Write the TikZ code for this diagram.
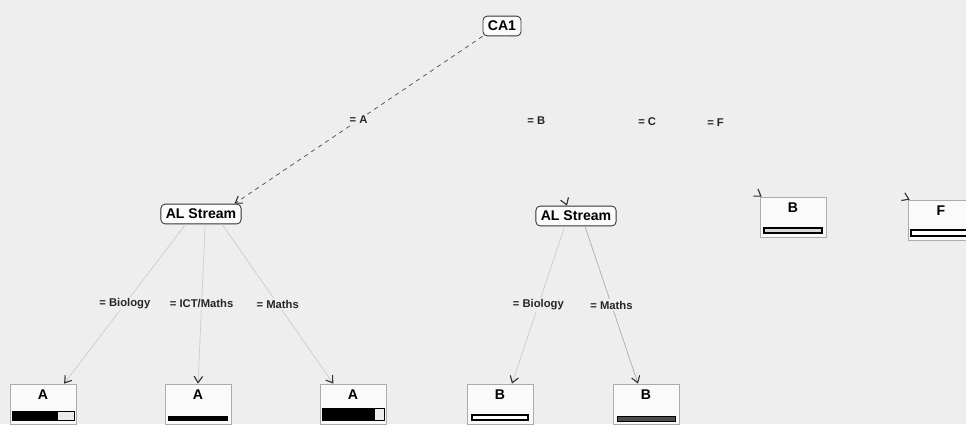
\documentclass[tikz,border=0pt]{standalone}
\usepackage{fontspec}
\setmainfont{Liberation Sans}
\usepackage{xcolor}
\usetikzlibrary{positioning, arrows.meta}

\definecolor{scanbg}{gray}{0.935}

\begin{document}
\begin{tikzpicture}[x=0.025cm, y=-0.025cm,
    tnode/.style={draw=black!80, rounded corners=3pt, fill=gray!3, line width=0.6pt,
        inner sep=3.5pt, font=\bfseries\fontsize{10}{12}\selectfont},
    leafbox/.style={draw=gray!65, fill=gray!4, line width=0.5pt, inner sep=0pt,
        minimum width=1.65cm, minimum height=1cm},
    leaftxt/.style={inner sep=1pt, font=\bfseries\fontsize{10}{12}\selectfont},
    edge/.style={-{Straight Barb[black!80, length=4.5pt, width=6pt, line width=0.8pt]},
        gray!40, line width=0.5pt},
    elabel/.style={fill=scanbg, inner sep=1pt, text=black!85,
        font=\bfseries\fontsize{8}{9}\selectfont}]

    % fond (scan) et cadre
    \useasboundingbox (0,0) rectangle (966,424);
    \clip (0,0) rectangle (966,424);
    \fill[scanbg] (0,0) rectangle (966,424);

    % Racine et noeuds internes
    \node[tnode] (ca1) at (502,26) {CA1};
    \node[tnode] (alL) at (201,214) {AL Stream};
    \node[tnode] (alR) at (576,216) {AL Stream};

    % Feuilles
    \foreach \name/\x/\y/\lbl in {lfA/43/404/A, lfAb/198/404/A, lfAc/353/404/A,
        lfB/500/404/B, lfBb/646/404/B, lfBc/793/217/B, lfF/941/220/F}{
        \node[leafbox] (\name) at (\x,\y) {};
        \node[leaftxt, below=3pt of \name.north] {\lbl};
    }

    % Barres des feuilles
    \draw[line width=0.6pt, fill=gray!15] (12,411) rectangle (74,420);
    \fill[black] (12,411) rectangle (58,420);
    \fill[black] (168,416) rectangle (228,421);
    \draw[line width=0.6pt, fill=gray!15] (322,408) rectangle (384,420);
    \fill[black] (322,408) rectangle (375,420);
    \draw[line width=0.8pt, fill=white] (472,415) rectangle (528,420);
    \draw[line width=0.6pt, fill=black!70] (617,416) rectangle (675,421);
    \draw[line width=0.8pt, fill=gray!30] (764,228) rectangle (822,233);
    \draw[line width=0.8pt, fill=white] (911,230) rectangle (970,236);

    % Aretes depuis CA1
    \draw[edge, black!70, dashed] (ca1.south west) -- ([xshift=-5pt]alL.north east)
        node[elabel, midway] {= A};
    \draw[edge, gray!12] (ca1.-70) -- ([xshift=-6.4pt]alR.north)
        node[elabel, midway] {= B};
    \draw[edge, gray!10] (ca1.south east) -- ([xshift=1.5pt]lfBc.north west)
        node[elabel, midway, xshift=4pt, yshift=-4pt] {= C};
    \draw[edge, gray!10] (ca1.east) -- ([xshift=1.5pt]lfF.north west)
        node[elabel, midway, yshift=-7pt] {= F};

    % Aretes depuis AL Stream (gauche)
    \draw[edge] ([xshift=-11pt]alL.south) -- ([xshift=15pt]lfA.north)
        node[elabel, midway] {= Biology};
    \draw[edge] ([xshift=3pt]alL.south) -- (lfAb.north)
        node[elabel, midway] {= ICT/Maths};
    \draw[edge] ([xshift=15pt]alL.south) -- ([xshift=-14pt]lfAc.north)
        node[elabel, midway] {= Maths};

    % Aretes depuis AL Stream (droite)
    \draw[edge] ([xshift=-8pt]alR.south) -- ([xshift=8.5pt]lfB.north)
        node[elabel, midway] {= Biology};
    \draw[edge, gray!65] ([xshift=6.4pt]alR.south) -- ([xshift=-5.7pt]lfBb.north)
        node[elabel, midway] {= Maths};

\end{tikzpicture}
\end{document}
